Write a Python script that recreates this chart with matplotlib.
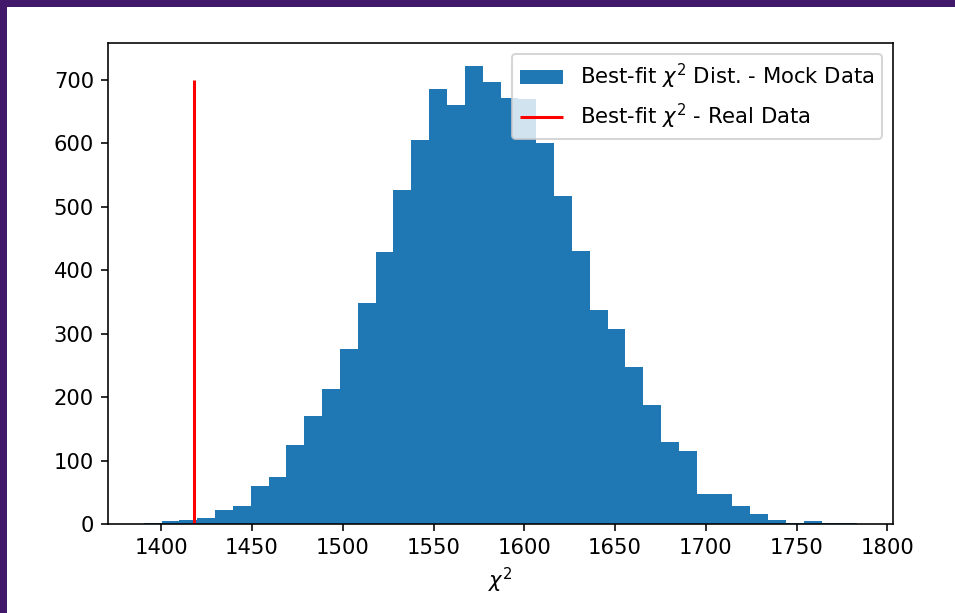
import numpy as np
import matplotlib
matplotlib.use("Agg")
import matplotlib.pyplot as plt
from matplotlib.patches import Rectangle

# histogram of best-fit chi^2 from mock realisations (40 bins)
bin_lo = 1390.3
bin_hi = 1783.5
counts = [2, 4, 7, 10, 22, 28, 60, 74, 125, 171,
          213, 276, 349, 428, 526, 606, 686, 660, 722, 697,
          672, 670, 601, 517, 431, 338, 307, 248, 188, 130,
          115, 48, 48, 28, 16, 7, 2, 4, 1, 1]
chi2_real = 1418.0
line_top = 700

edges = np.linspace(bin_lo, bin_hi, len(counts) + 1)
centres = 0.5 * (edges[:-1] + edges[1:])

plt.rcParams['font.size'] = 10.5

dpi = 145
fig = plt.figure(figsize=(955 / dpi, 613 / dpi), dpi=dpi)
fig.patch.set_facecolor('#42186a')
# white canvas sitting inside the purple frame
fig.add_artist(Rectangle((7 / 955, 0), 1, 1 - 7 / 613, transform=fig.transFigure,
                         facecolor='white', edgecolor='none', zorder=-10))

ax = fig.add_axes([108 / 955, 1 - 524 / 613, (893 - 108) / 955, (524 - 43) / 613])
ax.hist(centres, bins=edges, weights=counts, label=r'Best-fit $\chi^2$ Dist. - Mock Data')
ax.vlines(chi2_real, 0, line_top, color='r', label=r'Best-fit $\chi^2$ - Real Data')
ax.set_xlabel(r'$\chi^2$')
ax.legend(loc='upper right')

fig.savefig('out.png', dpi=dpi, facecolor=fig.get_facecolor())
